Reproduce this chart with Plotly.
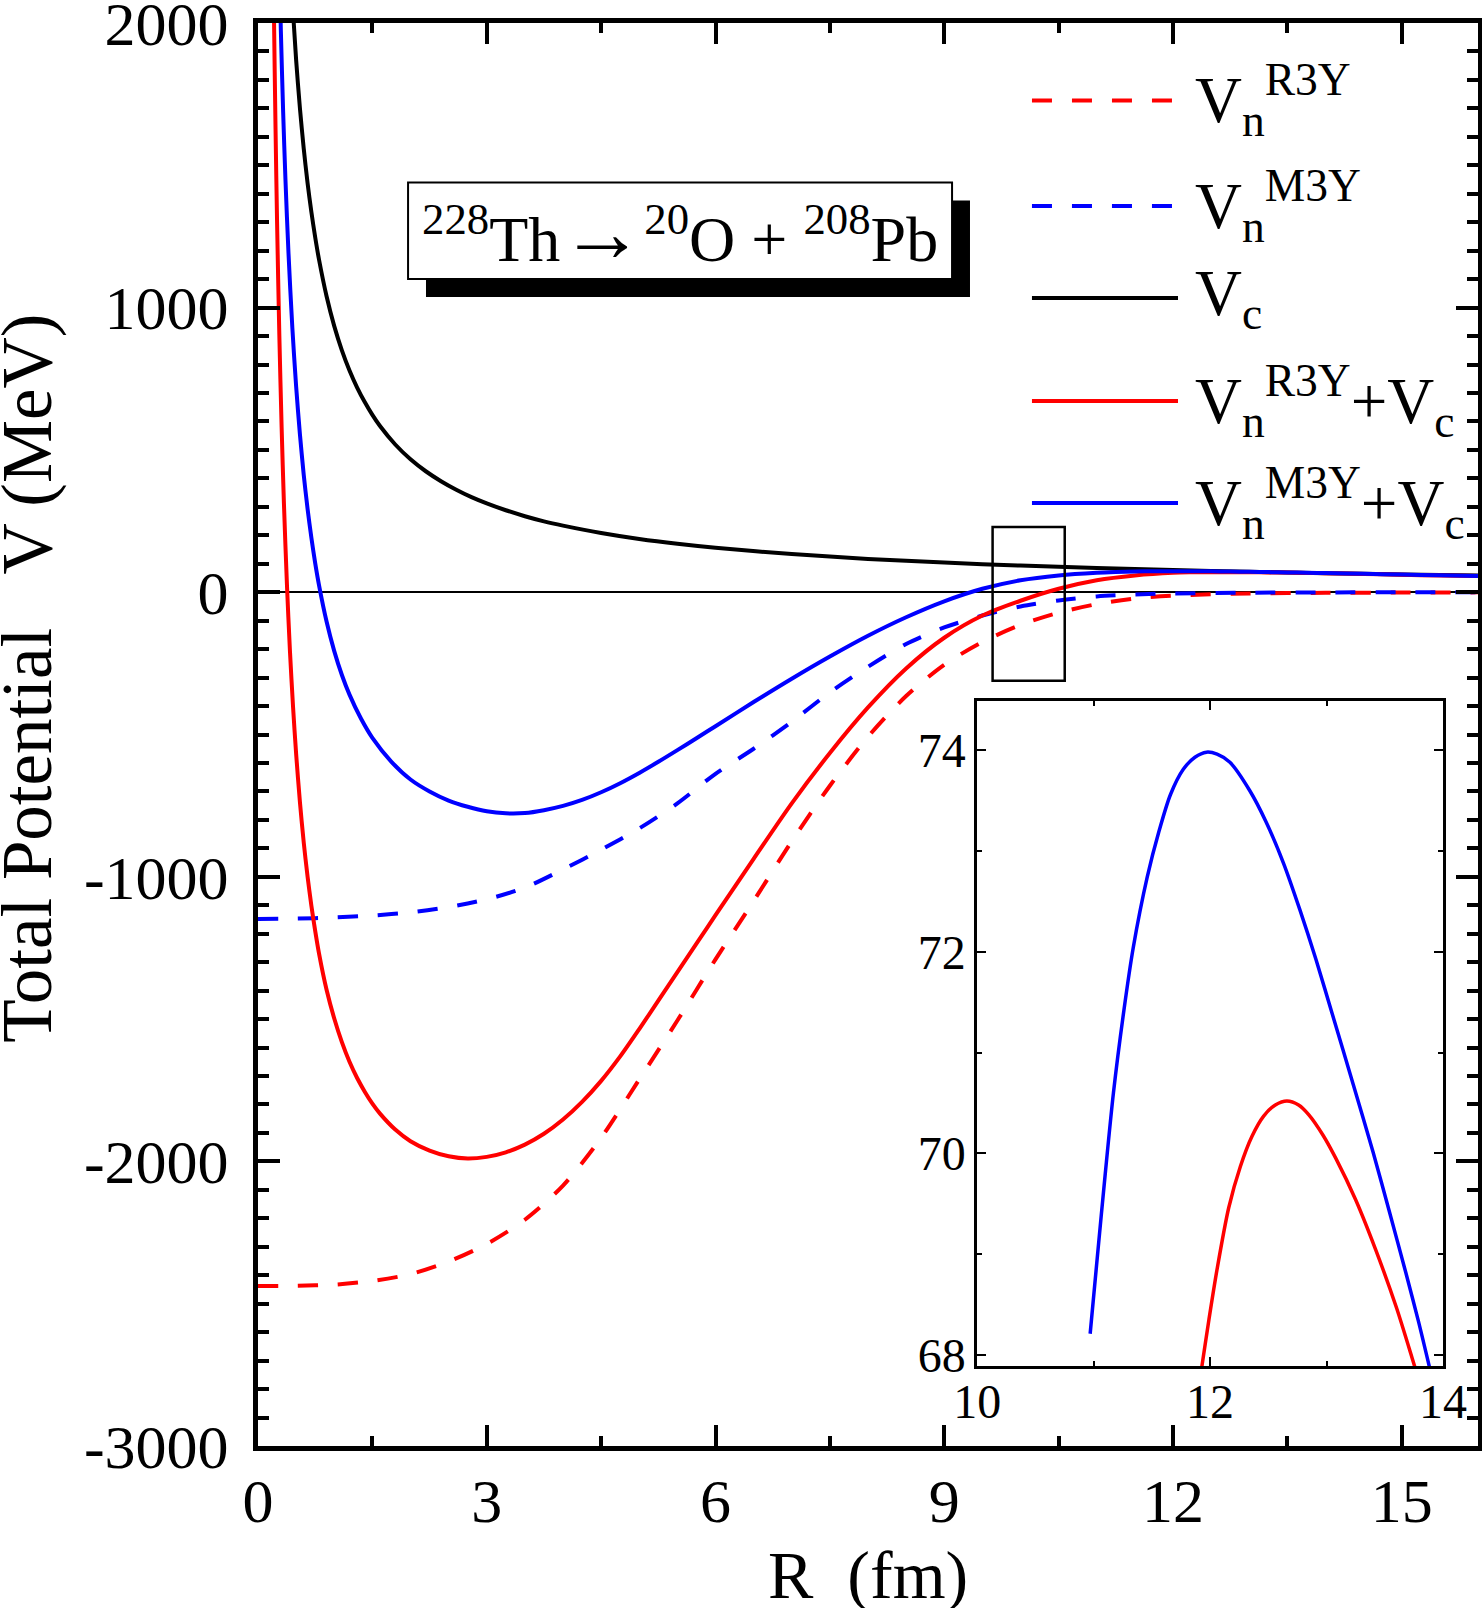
import plotly.graph_objects as go

# ---------------- data ----------------
# Coulomb potential V_c
R_vc = [0.45, 0.5, 0.55, 0.6, 0.65, 0.7, 0.75, 0.8, 0.9, 1.0, 1.1, 1.2, 1.3, 1.4, 1.5, 1.6,
        1.8, 2.0, 2.2, 2.4, 2.6, 2.8, 3.0, 3.25, 3.5, 3.75, 4.0, 4.5, 5.0, 5.5, 6.0, 7.0,
        8.0, 9.0, 10.0, 11.0, 12.0, 13.0, 14.0, 15.0, 16.0]
V_c = [2078, 1870, 1700, 1558, 1438, 1336, 1247, 1169, 1039, 935, 850, 779, 719, 668, 623,
       584, 519, 467, 425, 390, 360, 334, 312, 288, 267, 249, 234, 208, 187, 170, 156, 134,
       117, 104, 93.5, 85, 78, 72, 67, 62.5, 58.5]

# nuclear potentials V_n (R3Y and M3Y)
R_n = [0, 0.5, 1.0, 1.5, 2.0, 2.5, 3.0, 3.5, 4.0, 4.5, 5.0, 5.5, 6.0, 6.5, 7.0, 7.5, 8.0,
       8.5, 9.0, 9.5, 10.0, 10.5, 11.0, 11.5, 12.0, 13.0, 14.0, 15.0, 16.0]
Vn_R3Y = [-2438, -2437, -2433, -2420, -2396, -2352, -2290, -2205, -2085, -1917, -1712, -1505,
          -1290, -1085, -875, -680, -508, -365, -255, -175, -115, -72, -42, -22, -12, -4.5,
          -2.2, -1.2, -0.6]
Vn_M3Y = [-1148, -1147, -1143, -1136, -1125, -1106, -1079, -1038, -974, -905, -830, -742,
          -638, -550, -455, -352, -262, -182, -124, -82, -50, -29, -15, -8, -4.5, -1.8,
          -0.8, -0.4, -0.2]

# total potential V_n^R3Y + V_c
R_tot_r3y = [0.19, 0.21, 0.23, 0.25, 0.28, 0.31, 0.34, 0.38, 0.42, 0.46, 0.50, 0.55, 0.60,
             0.65, 0.70, 0.75, 0.80, 0.90, 1.00, 1.10, 1.20, 1.30, 1.40, 1.50, 1.60, 1.80,
             2.00, 2.25, 2.50, 2.75, 3.00, 3.25, 3.50, 3.75, 4.00, 4.25, 4.50, 4.75, 5.00,
             5.25, 5.50, 5.75, 6.00, 6.50, 7.00, 7.50, 8.00, 8.50, 9.00, 9.50, 10.00, 10.50,
             11.00, 11.50, 12.00, 12.25, 12.50, 12.75, 13.00, 13.25, 13.50, 13.75, 14.00,
             14.50, 15.00, 15.50, 16.00]
V_tot_r3y = [2483, 2014, 1627, 1302, 901, 578, 312, 23, -212, -405, -568, -738, -880, -999,
             -1102, -1190, -1269, -1398, -1498, -1581, -1650, -1707, -1755, -1797, -1832,
             -1888, -1929, -1962, -1982, -1990, -1984, -1968, -1941, -1903, -1853, -1791,
             -1717, -1631, -1535, -1435, -1335, -1235, -1135, -937, -742, -565, -405, -268,
             -160, -82, -30, 12, 42, 59, 68.3, 69.8, 70.4, 70.48, 70.15, 69.55, 68.8, 67.9,
             67.0, 64.3, 61.3, 58.8, 57.0]

# total potential V_n^M3Y + V_c
R_tot_m3y = [0.27, 0.30, 0.33, 0.36, 0.40, 0.45, 0.50, 0.55, 0.60, 0.65, 0.70, 0.75, 0.80,
             0.90, 1.00, 1.10, 1.20, 1.35, 1.50, 1.75, 2.00, 2.25, 2.50, 2.75, 3.00, 3.25,
             3.50, 3.75, 4.00, 4.25, 4.50, 4.75, 5.00, 5.25, 5.50, 5.75, 6.00, 6.50, 7.00,
             7.50, 8.00, 8.50, 9.00, 9.50, 10.00, 10.50, 11.00, 11.25, 11.50, 11.75, 12.00,
             12.25, 12.50, 12.75, 13.00, 13.25, 13.50, 13.75, 14.00, 14.50, 15.00, 15.50,
             16.00]
V_tot_m3y = [2315, 1970, 1686, 1450, 1191, 931, 723, 554, 412, 293, 191, 102, 25, -104, -207,
             -291, -360, -444, -512, -596, -658, -700, -732, -754, -770, -777, -776, -766,
             -751, -730, -703, -671, -635, -596, -555, -513, -471, -386, -304, -226, -153,
             -88, -32, 12, 42, 59, 68.5, 71.3, 72.9, 73.75, 73.98, 73.78, 73.25, 72.48,
             71.56, 70.6, 69.58, 68.5, 67.3, 64.7, 62.0, 59.6, 57.3]

# inset (barrier region)
R_in_m3y = [10.97, 11.03, 11.10, 11.17, 11.26, 11.34, 11.46, 11.56, 11.66, 11.77, 11.87,
            11.97, 12.06, 12.17, 12.34, 12.48, 12.63, 12.77, 12.91, 13.05, 13.23, 13.40,
            13.54, 13.68, 13.79, 13.90]
V_in_m3y = [68.21, 68.95, 69.80, 70.60, 71.42, 72.04, 72.74, 73.19, 73.56, 73.81, 73.93,
            73.98, 73.96, 73.88, 73.60, 73.29, 72.88, 72.42, 71.92, 71.38, 70.68, 70.01,
            69.42, 68.82, 68.33, 67.80]
R_in_r3y = [11.90, 11.93, 11.99, 12.06, 12.16, 12.26, 12.36, 12.46, 12.56, 12.66, 12.76,
            12.85, 12.97, 13.08, 13.25, 13.42, 13.60, 13.74, 13.80]
V_in_r3y = [67.65, 67.89, 68.35, 68.85, 69.46, 69.87, 70.17, 70.37, 70.48, 70.52, 70.48,
            70.38, 70.18, 69.95, 69.54, 69.05, 68.47, 67.95, 67.72]

# tick labels
x_ticks = [0, 3, 6, 9, 12, 15]
x_ticktext = ["0", "3", "6", "9", "12", "15"]
x_minor = [1.5, 4.5, 7.5, 10.5, 13.5]
y_ticks = [-3000, -2000, -1000, 0, 1000, 2000]
y_ticktext = ["-3000", "-2000", "-1000", "0", "1000", "2000"]
y_minor = [v for v in range(-3000, 2001, 100) if v % 1000 != 0]
xin_ticks = [10, 12, 14]
xin_ticktext = ["10", "12", "14"]
xin_minor = [11, 13]
yin_ticks = [68, 70, 72, 74]
yin_ticktext = ["68", "70", "72", "74"]
yin_minor = [69, 71, 73]

legend_labels = ["V<sub>n</sub><sup>R3Y</sup>",
                 "V<sub>n</sub><sup>M3Y</sup>",
                 "V<sub>c</sub>",
                 "V<sub>n</sub><sup>R3Y</sup>+V<sub>c</sub>",
                 "V<sub>n</sub><sup>M3Y</sup>+V<sub>c</sub>"]
reaction_label = ("<sup>228</sup>Th<span style='font-size:84px'>\u2192</span>"
                  "<sup>20</sup>O + <sup>208</sup>Pb")

# ---------------- styles ----------------
FONT = "Liberation Serif"
RED = "#FF0000"
BLUE = "#0000FF"
BLACK = "#000000"
DASH = "20px,20px"
LW = 4

fig = go.Figure()

main_series = [
    (R_n, Vn_R3Y, RED, DASH),
    (R_n, Vn_M3Y, BLUE, DASH),
    (R_vc, V_c, BLACK, "solid"),
    (R_tot_r3y, V_tot_r3y, RED, "solid"),
    (R_tot_m3y, V_tot_m3y, BLUE, "solid"),
]
for xs, ys, col, dash in main_series:
    fig.add_trace(go.Scatter(x=xs, y=ys, mode="lines", xaxis="x", yaxis="y",
                             line=dict(color=col, width=LW, dash=dash, shape="spline",
                                       smoothing=0.8),
                             showlegend=False, hoverinfo="skip"))

fig.add_trace(go.Scatter(x=R_in_r3y, y=V_in_r3y, mode="lines", xaxis="x2", yaxis="y2",
                         line=dict(color=RED, width=3.5, shape="spline", smoothing=0.8),
                         showlegend=False, hoverinfo="skip"))
fig.add_trace(go.Scatter(x=R_in_m3y, y=V_in_m3y, mode="lines", xaxis="x2", yaxis="y2",
                         line=dict(color=BLUE, width=3.5, shape="spline", smoothing=0.8),
                         showlegend=False, hoverinfo="skip"))

axis_common = dict(showgrid=False, showline=True, linecolor=BLACK, mirror="ticks",
                   ticks="inside", tickcolor=BLACK, tickmode="array",
                   ticklabeloverflow="allow", automargin=False)

fig.update_layout(
    width=1482, height=1608,
    margin=dict(l=258, r=4, t=23, b=162, autoexpand=False),
    paper_bgcolor="white", plot_bgcolor="white",
    showlegend=False,
    font=dict(family=FONT, color=BLACK),
    xaxis=dict(axis_common, range=[0, 16], tickvals=x_ticks, ticktext=x_ticktext,
               ticklen=21, tickwidth=4, linewidth=5, zeroline=False,
               tickfont=dict(family=FONT, size=62), ticklabelstandoff=-3,
               minor=dict(tickmode="array", tickvals=x_minor, ticks="inside", ticklen=10,
                          tickwidth=4, tickcolor=BLACK)),
    yaxis=dict(axis_common, range=[-3000, 2000], tickvals=y_ticks, ticktext=y_ticktext,
               ticklen=22, tickwidth=4, linewidth=5,
               zeroline=True, zerolinecolor=BLACK, zerolinewidth=2,
               tickfont=dict(family=FONT, size=62), ticklabelstandoff=12,
               minor=dict(tickmode="array", tickvals=y_minor, ticks="inside", ticklen=11,
                          tickwidth=4, tickcolor=BLACK)),
    xaxis2=dict(axis_common, domain=[0.5895, 0.9713], anchor="y2", range=[10, 14],
                tickvals=xin_ticks, ticktext=xin_ticktext, ticklen=9, tickwidth=2,
                linewidth=2.5, zeroline=False, tickfont=dict(family=FONT, size=48),
                ticklabelstandoff=-8,
                minor=dict(tickmode="array", tickvals=xin_minor, ticks="inside", ticklen=5,
                           tickwidth=2, tickcolor=BLACK)),
    yaxis2=dict(axis_common, domain=[0.0562, 0.5237], anchor="x2", range=[67.89, 74.49],
                tickvals=yin_ticks, ticktext=yin_ticktext, ticklen=9, tickwidth=2,
                linewidth=2.5, zeroline=False, tickfont=dict(family=FONT, size=48),
                ticklabelstandoff=-1,
                minor=dict(tickmode="array", tickvals=yin_minor, ticks="inside", ticklen=5,
                           tickwidth=2, tickcolor=BLACK)),
)

shapes = []
# zoom marker rectangle on the main plot
shapes.append(dict(type="rect", xref="x", yref="y", x0=9.634, x1=10.58, y0=-311, y1=229,
                   line=dict(color=BLACK, width=2.5), fillcolor="rgba(0,0,0,0)", layer="above"))
# reaction label box with drop shadow
shapes.append(dict(type="rect", xref="paper", yref="paper", x0=0.1377, x1=0.5836,
                   y0=0.8075, y1=0.8752, line=dict(width=0), fillcolor=BLACK, layer="above"))
shapes.append(dict(type="rect", xref="paper", yref="paper", x0=0.1230, x1=0.5689,
                   y0=0.8201, y1=0.8879, line=dict(color=BLACK, width=2), fillcolor="white",
                   layer="above"))
# legend keys
legend_rows = [0.9456, 0.8714, 0.8068, 0.7344, 0.6627]
legend_styles = [(RED, DASH), (BLUE, DASH), (BLACK, "solid"), (RED, "solid"), (BLUE, "solid")]
for yy, (col, dash) in zip(legend_rows, legend_styles):
    shapes.append(dict(type="line", xref="paper", yref="paper", x0=0.6344, x1=0.7541,
                       y0=yy, y1=yy, line=dict(color=col, width=LW, dash=dash), layer="above"))
fig.update_layout(shapes=shapes)

annotations = []
annotations.append(dict(text=reaction_label, xref="paper", yref="paper", x=0.3459, y=0.8531,
                        xanchor="center", yanchor="middle", showarrow=False,
                        font=dict(family=FONT, size=64, color=BLACK)))
for yy, lab in zip(legend_rows, legend_labels):
    annotations.append(dict(text=lab, xref="paper", yref="paper", x=0.7664, y=yy,
                            xanchor="left", yanchor="middle", showarrow=False,
                            font=dict(family=FONT, size=65, color=BLACK)))
annotations.append(dict(text="R\u00a0\u00a0(fm)", xref="paper", yref="paper", x=0.5,
                        y=-0.091, xanchor="center", yanchor="middle", showarrow=False,
                        font=dict(family=FONT, size=68, color=BLACK)))
annotations.append(dict(text="Total Potential\u00a0\u00a0\u00a0V (MeV)", xref="paper",
                        yref="paper", x=-0.1885, y=0.5392, xanchor="center",
                        yanchor="middle", textangle=-90, showarrow=False,
                        font=dict(family=FONT, size=71, color=BLACK)))
fig.update_layout(annotations=annotations)

fig.write_html("out.html", config={"responsive": False, "displayModeBar": False},
               post_script="document.body.style.margin='0px';"
                           "document.body.style.overflow='hidden';")
